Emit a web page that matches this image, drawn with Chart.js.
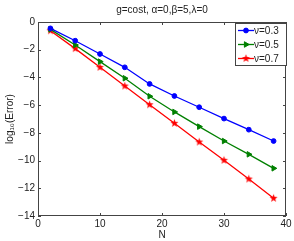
<!DOCTYPE html>
<html>
<head>
<meta charset="utf-8">
<script src="https://cdn.jsdelivr.net/npm/chart.js@4.4.1/dist/chart.umd.min.js"></script>
<style>
  html, body { margin: 0; padding: 0; background: #fff; }
  #wrap { width: 294px; height: 241px; }
</style>
</head>
<body>
<div id="wrap"><canvas id="chart" width="294" height="241"></canvas></div>
<script>
'use strict';

// data
const nValues = [2, 6, 10, 14, 18, 22, 26, 30, 34, 38];
const errNu03 = [-0.46, -1.35, -2.31, -3.27, -4.47, -5.34, -6.15, -6.97, -7.77, -8.59];
const errNu05 = [-0.53, -1.66, -2.86, -4.06, -5.36, -6.49, -7.55, -8.59, -9.55, -10.56];
const errNu07 = [-0.63, -1.92, -3.27, -4.62, -5.97, -7.31, -8.66, -9.98, -11.33, -12.72];
const seriesLabels = ['ν=0.3', 'ν=0.5', 'ν=0.7'];
const xTicks = [0, 10, 20, 30, 40];
const yTicks = [0, -2, -4, -6, -8, -10, -12, -14];
const chartTitle = 'g=cost, α=0,β=5,λ=0';

const FONT = '"Liberation Sans", Arial, sans-serif';
const AXIS = '#444';

// filled five point star, like matlab's 'p' marker
function makeStar(color, r) {
  const c = document.createElement('canvas');
  const s = Math.ceil(r * 2 + 2);
  c.width = s; c.height = s;
  const g = c.getContext('2d');
  g.fillStyle = color;
  g.beginPath();
  for (let i = 0; i < 10; i++) {
    const rad = i % 2 === 0 ? r : r * 0.42;
    const a = -Math.PI / 2 + i * Math.PI / 5;
    const px = s / 2 + rad * Math.cos(a), py = s / 2 + rad * Math.sin(a);
    if (i === 0) g.moveTo(px, py); else g.lineTo(px, py);
  }
  g.closePath();
  g.fill();
  return c;
}
const redStar = makeStar('#ff0000', 4.2);

const toPts = arr => arr.map((v, i) => ({ x: nValues[i], y: v }));

const datasets = [
  { label: seriesLabels[0], data: toPts(errNu03), borderColor: '#0000ff', backgroundColor: '#0000ff',
    pointStyle: 'circle', pointRadius: 2.4, borderWidth: 1.3, pointBorderWidth: 1 },
  { label: seriesLabels[1], data: toPts(errNu05), borderColor: '#008000', backgroundColor: '#008000',
    pointStyle: 'triangle', pointRotation: 90, pointRadius: 3.2, borderWidth: 1.3, pointBorderWidth: 1 },
  { label: seriesLabels[2], data: toPts(errNu07), borderColor: '#ff0000', backgroundColor: '#ff0000',
    pointStyle: redStar, pointRadius: 4, borderWidth: 1.3 }
];

// box, inward ticks, title and legend the matlab way
const matlabFrame = {
  id: 'matlabFrame',
  afterDatasetsDraw(chart) {
    const { ctx, chartArea: a, scales } = chart;
    ctx.save();
    ctx.strokeStyle = AXIS;
    ctx.lineWidth = 1;
    ctx.strokeRect(a.left + 0.5, a.top + 0.5, a.right - a.left - 1, a.bottom - a.top - 1);
    ctx.beginPath();
    xTicks.forEach(t => {
      const x = Math.round(scales.x.getPixelForValue(t)) + 0.5;
      ctx.moveTo(x, a.bottom); ctx.lineTo(x, a.bottom - 3);
      ctx.moveTo(x, a.top); ctx.lineTo(x, a.top + 3);
    });
    yTicks.forEach(t => {
      const y = Math.round(scales.y.getPixelForValue(t)) + 0.5;
      ctx.moveTo(a.left, y); ctx.lineTo(a.left + 3, y);
      ctx.moveTo(a.right, y); ctx.lineTo(a.right - 3, y);
    });
    ctx.stroke();

    // title
    ctx.fillStyle = '#222';
    ctx.font = '10px ' + FONT;
    ctx.textAlign = 'center';
    ctx.textBaseline = 'middle';
    ctx.fillText(chartTitle, (a.left + a.right) / 2, 10);

    // legend
    const bx = 235, by = 23, bw = 51, bh = 42;
    ctx.fillStyle = '#fff';
    ctx.fillRect(bx, by, bw, bh);
    ctx.strokeStyle = AXIS;
    ctx.strokeRect(bx + 0.5, by + 0.5, bw, bh);
    chart.data.datasets.forEach((ds, i) => {
      const y = by + 7.5 + i * 14;
      ctx.strokeStyle = ds.borderColor;
      ctx.lineWidth = 1.3;
      ctx.beginPath();
      ctx.moveTo(bx + 3, y); ctx.lineTo(bx + 19, y);
      ctx.stroke();
      ctx.fillStyle = ds.backgroundColor;
      ctx.lineWidth = 1;
      Chart.helpers.drawPoint(ctx, {
        pointStyle: ds.pointStyle, rotation: ds.pointRotation || 0,
        radius: ds.pointRadius, borderWidth: 1
      }, bx + 11, y);
      ctx.fillStyle = '#222';
      ctx.font = '10px ' + FONT;
      ctx.textAlign = 'left';
      ctx.fillText(ds.label, bx + 19, y + 0.5);
    });
    ctx.restore();
  }
};

const minusFmt = v => String(v).replace('-', '\u2212');

new Chart(document.getElementById('chart'), {
  type: 'line',
  data: { datasets },
  options: {
    responsive: false,
    animation: false,
    layout: { padding: { top: 22, right: 8, left: 0, bottom: 0 } },
    plugins: { legend: { display: false }, title: { display: false }, tooltip: { enabled: false } },
    elements: { line: { tension: 0 } },
    scales: {
      x: {
        type: 'linear', min: 0, max: 40,
        afterBuildTicks: s => { s.ticks = xTicks.map(v => ({ value: v })); },
        afterFit: s => { s.height = 25; },
        grid: { display: false, drawTicks: false },
        border: { display: false },
        ticks: { color: '#222', font: { family: FONT, size: 10 }, padding: 2, maxRotation: 0, callback: minusFmt },
        title: { display: true, text: 'N', color: '#222', font: { family: FONT, size: 10 }, padding: { top: -2, bottom: 0 } }
      },
      y: {
        type: 'linear', min: -14, max: 0,
        afterBuildTicks: s => { s.ticks = yTicks.map(v => ({ value: v })); },
        afterFit: s => { s.width = 38; },
        grid: { display: false, drawTicks: false },
        border: { display: false },
        ticks: { color: '#222', font: { family: FONT, size: 10 }, padding: 3, callback: minusFmt },
        title: { display: true, text: 'log₁₀(Error)', color: '#222', font: { family: FONT, size: 10 }, padding: { top: 4, bottom: 0 } }
      }
    }
  },
  plugins: [matlabFrame]
});
</script>
</body>
</html>
